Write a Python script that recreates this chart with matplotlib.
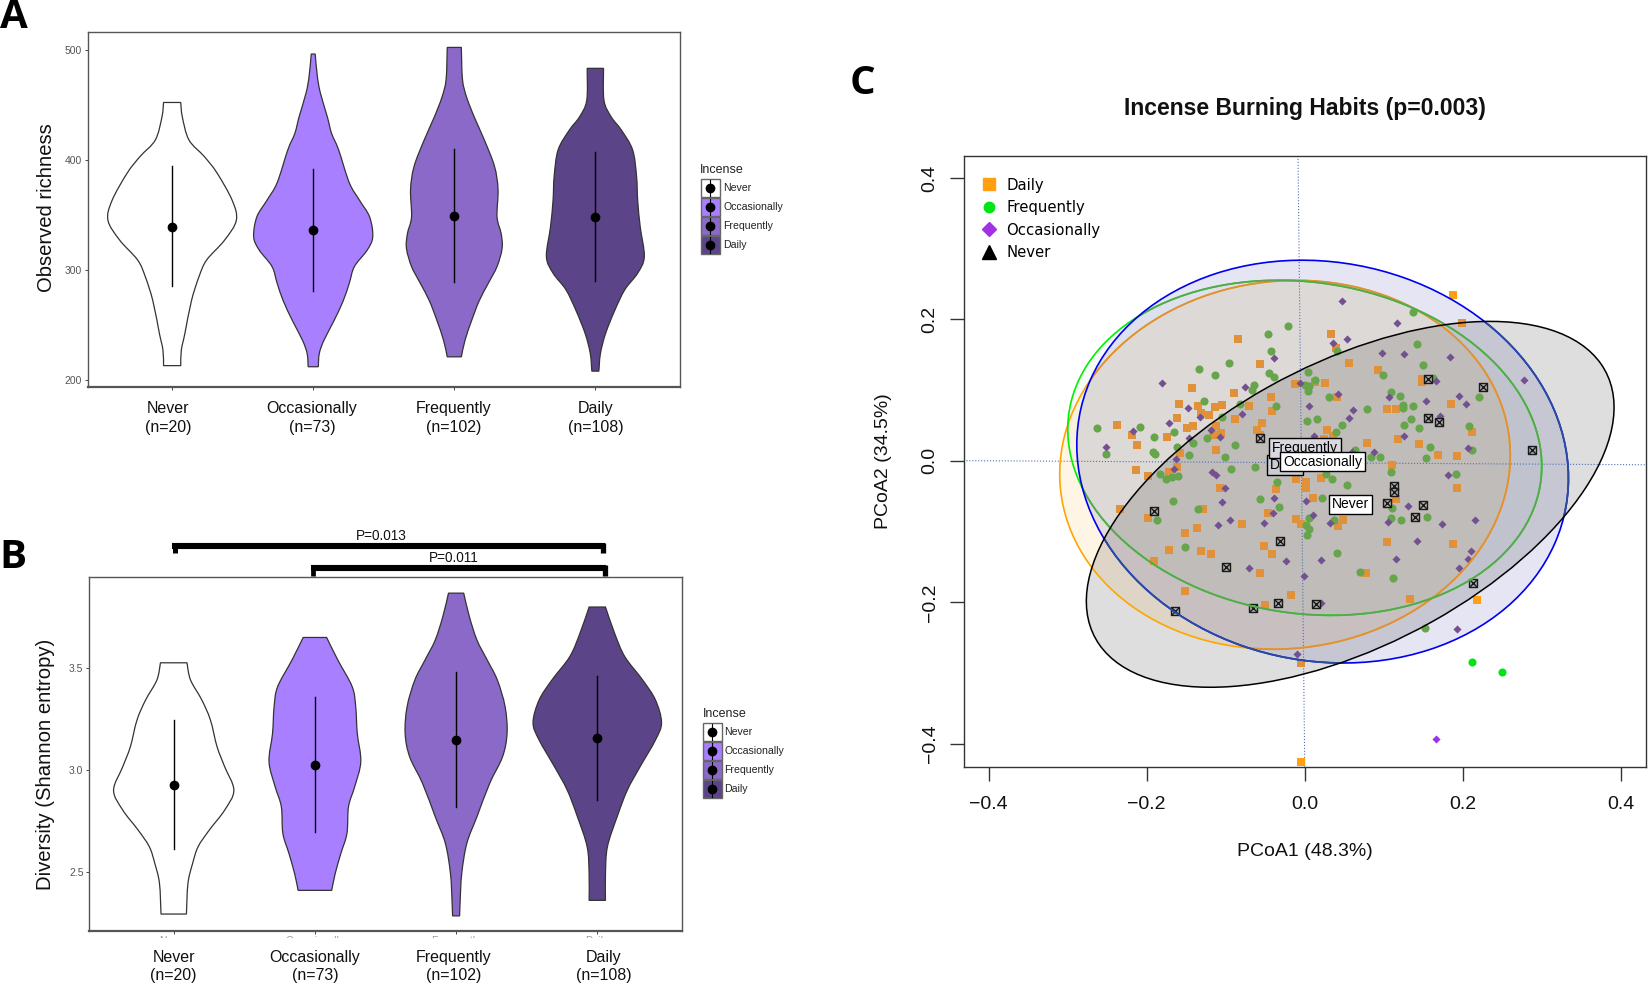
import numpy as np
import matplotlib
matplotlib.use('Agg')
import matplotlib.pyplot as plt
from matplotlib.lines import Line2D
from matplotlib.patches import Ellipse, PathPatch, Rectangle
from matplotlib.path import Path
from matplotlib.transforms import Bbox

plt.rcParams['font.family'] = ['Liberation Sans', 'DejaVu Sans']

W, H = 1650, 984

groups = ['Never', 'Occasionally', 'Frequently', 'Daily']
counts = ['(n=20)', '(n=73)', '(n=102)', '(n=108)']
violin_colors = ['#FFFFFF', '#A880FF', '#8A69C9', '#5C4488']

# panel A, violin outlines: value and half width at that value
a_never_y = [452, 439, 418, 403, 388, 363, 345, 327, 309, 294, 272, 242, 227, 213]
a_never_w = [.061, .072, .119, .227, .318, .426, .455, .372, .245, .191, .137, .09, .065, .061]
a_occ_y = [496, 476, 461, 439, 424, 409, 379, 363, 348, 330, 318, 303, 288, 272, 254, 236, 224, 212]
a_occ_w = [.014, .029, .05, .10, .13, .18, .256, .329, .40, .422, .383, .292, .256, .213, .148, .076, .043, .036]
a_freq_y = [502, 473, 457, 439, 418, 394, 373, 348, 333, 319.5, 303, 288, 272, 254, 236, 221]
a_freq_w = [.05, .058, .087, .141, .213, .285, .31, .303, .332, .339, .303, .242, .177, .123, .076, .05]
a_daily_y = [483, 454, 439, 427, 409, 385, 363, 339, 312, 297, 282, 263, 242, 224, 208]
a_daily_w = [.058, .061, .112, .184, .264, .292, .30, .318, .347, .30, .209, .137, .072, .036, .025]
a_mean = [339, 336, 349, 348]
a_low = [285, 281, 289, 290]
a_high = [394, 392, 410, 407]

# panel B, same layout
b_never_y = [3.524, 3.44, 3.342, 3.244, 3.113, 3.015, 2.90, 2.803, 2.706, 2.624, 2.542, 2.445, 2.294]
b_never_w = [.094, .119, .199, .26, .307, .361, .426, .361, .253, .173, .134, .101, .09]
b_occ_y = [3.648, 3.538, 3.407, 3.309, 3.179, 3.04, 2.918, 2.82, 2.689, 2.591, 2.493, 2.41]
b_occ_w = [.083, .162, .264, .289, .30, .325, .282, .238, .227, .184, .144, .119]
b_freq_y = [3.865, 3.75, 3.635, 3.538, 3.44, 3.309, 3.179, 3.064, 2.934, 2.771, 2.64, 2.493, 2.363, 2.285]
b_freq_w = [.054, .094, .148, .22, .292, .347, .361, .329, .238, .148, .076, .04, .029, .025]
b_daily_y = [3.797, 3.668, 3.554, 3.44, 3.342, 3.231, 3.146, 3.015, 2.901, 2.771, 2.624, 2.493, 2.361]
b_daily_w = [.058, .123, .195, .321, .412, .455, .412, .303, .213, .141, .072, .058, .058]
b_mean = [2.926, 3.025, 3.148, 3.154]
b_low = [2.611, 2.694, 2.82, 2.851]
b_high = [3.244, 3.356, 3.477, 3.461]

# panel C, points
daily_pts = [
    (.199, .195), (.033, .179), (-.085, .173), (.040, .159), (.056, .139), (-.056, .137), (.093, .129),
    (.148, .116), (.148, .111), (-.143, .103), (-.012, .109), (.013, .112), (.025, .110), (-.089, .096),
    (-.043, .091), (.041, .090), (-.159, .080), (-.135, .077), (-.131, .068), (-.121, .065), (-.113, .076),
    (-.105, .079), (-.071, .077), (-.041, .071), (.104, .074), (.115, .074), (.185, .081), (-.161, .060),
    (-.088, .059), (-.238, .051), (-.149, .047), (-.141, .049), (-.112, .049), (-.054, .053), (-.060, .044),
    (-.056, .037), (-.219, .037), (-.174, .034), (-.116, .036), (-.106, .039), (.028, .043), (.036, .035),
    (.024, .031), (.212, .041), (-.212, .023), (.118, .031), (.144, .024), (.079, .025), (-.158, .011),
    (-.112, .015), (.169, .008), (.192, .007), (.111, -.006), (-.161, -.009), (-.214, -.013), (-.198, -.022),
    (-.172, -.016), (-.011, -.025), (.001, -.030), (.002, -.039), (.021, -.024), (-.037, -.040), (-.107, -.038),
    (.193, -.039), (.010, -.052), (.116, -.054), (-.234, -.068), (-.129, -.068), (-.198, -.081), (-.046, -.073),
    (-.011, -.082), (-.005, -.089), (-.079, -.089), (.048, -.083), (.042, -.092), (-.136, -.095), (-.151, -.102),
    (.104, -.115), (.188, -.117), (-.051, -.121), (-.172, -.126), (-.131, -.127), (-.119, -.132), (-.041, -.132),
    (-.191, -.142), (.077, -.158), (-.056, -.159), (-.151, -.184), (-.018, -.190), (-.050, -.203), (.015, -.203),
    (.133, -.195), (-.005, -.285),
]
daily_out = [(.187, .235), (.218, -.196), (-.005, -.425)]
freq_pts = [
    (.137, .211), (-.021, .191), (-.047, .179), (-.043, .155), (.041, .155), (.142, .165), (-.096, .138),
    (-.134, .130), (-.113, .121), (.149, .136), (-.045, .124), (-.039, .118), (.004, .126), (.099, .121),
    (.162, .117), (-.064, .107), (-.067, .100), (0, .107), (.006, .106), (.013, .115), (.004, .099), (.031, .090),
    (.109, .097), (.121, .092), (-.127, .084), (-.082, .080), (-.037, .077), (.079, .073), (.124, .079),
    (.124, .075), (.137, .078), (.221, .090), (-.105, .062), (.003, .057), (.016, .059), (.135, .059), (.125, .051),
    (.145, .047), (.208, .049), (.047, .051), (-.263, .046), (-.208, .048), (-.165, .041), (-.191, .034),
    (-.124, .033), (-.141, .025), (-.162, .020), (-.088, .022), (.039, .041), (-.251, .010), (-.192, .012),
    (-.189, .010), (-.147, .009), (-.101, .005), (.064, .016), (.084, .005), (.095, .005), (.159, .019), (.212, .016),
    (.153, .004), (-.093, -.012), (-.063, -.008), (.109, -.016), (.191, -.018), (-.183, -.018), (-.175, -.026),
    (-.168, -.023), (-.160, -.022), (.027, -.019), (.035, -.025), (-.035, -.030), (.054, -.034), (-.167, -.057),
    (-.057, -.054), (.022, -.053), (-.032, -.065), (-.135, -.068), (.111, -.067), (-.187, -.083), (.006, -.081),
    (.037, -.083), (.109, -.081), (.122, -.084), (.155, -.080), (.002, -.091), (.006, -.096), (.003, -.105),
    (-.151, -.122), (.041, -.130), (.070, -.157), (.112, -.166), (.152, -.236),
]
freq_out = [(.212, -.284), (.250, -.298)]
occ_pts = [
    (.047, .226), (.117, .195), (.036, .166), (.053, .172), (-.039, .146), (.098, .153), (.126, .151), (.184, .147),
    (-.181, .110), (-.076, .104), (-.006, .110), (.166, .113), (.277, .115), (.042, .094), (.106, .090), (.195, .092),
    (.153, .084), (.204, .080), (-.148, .075), (.005, .078), (.061, .072), (-.079, .066), (-.133, .062), (.056, .060),
    (-.172, .054), (.171, .064), (-.217, .042), (-.118, .043), (-.107, .034), (-.146, .032), (.012, .035), (.125, .035),
    (-.251, .019), (.206, .018), (.060, .012), (.087, .012), (-.163, .003), (-.165, -.012), (-.117, -.016),
    (-.112, -.020), (.181, -.020), (-.101, -.039), (-.039, -.053), (.002, -.057), (-.105, -.058), (.130, -.064),
    (-.040, -.074), (.011, -.077), (-.094, -.084), (-.110, -.090), (-.051, -.088), (.032, -.088), (.105, -.087),
    (.174, -.089), (.215, -.084), (.142, -.113), (.210, -.127), (.206, -.138), (-.024, -.142), (.020, -.140),
    (.116, -.138), (-.070, -.151), (.195, -.152), (-.001, -.162), (.021, -.201), (.192, -.238), (-.010, -.273),
]
occ_out = [(.166, -.393)]
never_pts = [
    (-.056, .032), (.156, .116), (.225, .104), (.156, .060), (.170, .055), (.287, .015), (.113, -.035), (.113, -.044),
    (.104, -.060), (.150, -.062), (.139, -.080), (-.191, -.071), (-.031, -.113), (-.100, -.150), (.213, -.173),
    (-.164, -.212), (-.066, -.208), (-.034, -.201), (.014, -.202),
]

# ellipse: centre x, centre y, half extent x, half extent y, tilt
ell_daily = [-.025, -.0055, .285, .2607, .05]
ell_freq = [0.0, .0185, .2998, .2368, -.11]
ell_occ = [.0226, -.001, .311, .2847, -.083]
ell_never = [.0575, -.0614, .3338, .2586, .53]


def add_axes_px(fig, left, top, right, bottom):
    return fig.add_axes([left / W, 1 - bottom / H, (right - left) / W, (bottom - top) / H])


def fig_text(fig, x, y, s, **kw):
    return fig.text(x / W, 1 - y / H, s, **kw)


def px_line(fig, xs, ys, **kw):
    fig.add_artist(Line2D([x / W for x in xs], [1 - y / H for y in ys], transform=fig.transFigure, **kw))


def smooth(points):
    # bezier control points through the knots
    p = np.asarray(points, dtype=float)
    q = np.vstack([p[0], p, p[-1]])
    verts = []
    for i in range(1, len(q) - 2):
        verts.append(q[i] + (q[i + 1] - q[i - 1]) / 6)
        verts.append(q[i + 1] - (q[i + 2] - q[i]) / 6)
        verts.append(q[i + 1])
    return verts


def draw_violin(ax, x, ys, ws, color):
    right = [(x + w, y) for y, w in zip(ys, ws)]
    left = [(x - w, y) for y, w in zip(ys[::-1], ws[::-1])]
    verts = [right[0]] + smooth(right) + [left[0]] + smooth(left) + [right[0]]
    n = len(smooth(right))
    codes = [Path.MOVETO] + [Path.CURVE4] * n + [Path.LINETO] + [Path.CURVE4] * n + [Path.CLOSEPOLY]
    ax.add_patch(PathPatch(Path(verts, codes), fc=color, ec='#333333', lw=0.9, zorder=2))


def violin_panel(ax, shapes, means, lows, highs):
    for i, (ys, ws) in enumerate(shapes):
        draw_violin(ax, i + 1, ys, ws, violin_colors[i])
        ax.plot([i + 1, i + 1], [lows[i], highs[i]], color='black', lw=1.0, zorder=3)
        ax.plot(i + 1, means[i], 'o', color='black', ms=6, zorder=4)
    ax.set_xlim(0.4, 4.6)
    ax.set_xticks([1, 2, 3, 4])
    ax.set_xticklabels([])
    for name, sp in ax.spines.items():
        sp.set_color('#555555')
        sp.set_linewidth(1.0)
    ax.spines['bottom'].set_linewidth(1.6)
    ax.tick_params(axis='both', length=2.5, width=0.7, color='#444444', labelcolor='#555555', labelsize=7.5, pad=1.5)


def violin_legend(fig, key_left, key_top, text_x, title_x, title_y):
    fig_text(fig, title_x, title_y, 'Incense', fontsize=9, va='center', color='#222222')
    for i, name in enumerate(groups):
        y = key_top + 19 * i
        fig.add_artist(Rectangle((key_left / W, 1 - (y + 18) / H), 19 / W, 18 / H, transform=fig.transFigure,
                                 fc=violin_colors[i], ec='#666666', lw=1.0))
        px_line(fig, [key_left + 9.5] * 2, [y + 1, y + 17], color='black', lw=0.8)
        px_line(fig, [key_left + 9.5], [y + 9], marker='o', ms=6, color='black', ls='none')
        fig_text(fig, text_x, y + 9, name, fontsize=7.6, va='center', color='#222222')


def draw_ellipse(ax, params, **kw):
    cx, cy, a, b, r = params
    vals, vecs = np.linalg.eigh([[a * a, r * a * b], [r * a * b, b * b]])
    angle = np.degrees(np.arctan2(vecs[1, 1], vecs[0, 1]))
    e = Ellipse((cx, cy), 2 * np.sqrt(vals[1]), 2 * np.sqrt(vals[0]), angle=angle, **kw)
    ax.add_patch(e)
    return e


fig = plt.figure(figsize=(W / 100, H / 100), dpi=100)

# ---- panel A
ax_a = add_axes_px(fig, 87.5, 32, 680, 387)
violin_panel(ax_a, [(a_never_y, a_never_w), (a_occ_y, a_occ_w), (a_freq_y, a_freq_w), (a_daily_y, a_daily_w)],
             a_mean, a_low, a_high)
ax_a.set_ylim(193.6, 516)
ax_a.set_yticks([200, 300, 400, 500])
fig_text(fig, 47, 208, 'Observed richness', rotation=90, ha='center', va='center', fontsize=14.6, color='#111111')
for x, g, c in zip([168, 312, 454, 596], groups, counts):
    fig_text(fig, x, 418, g + '\n' + c, ha='center', va='center', fontsize=11.5, linespacing=1.27, color='#111111')
violin_legend(fig, 700.5, 179, 723, 700, 170)

# ---- panel B
ax_b = add_axes_px(fig, 89, 577, 682, 931)
violin_panel(ax_b, [(b_never_y, b_never_w), (b_occ_y, b_occ_w), (b_freq_y, b_freq_w), (b_daily_y, b_daily_w)],
             b_mean, b_low, b_high)
ax_b.set_ylim(2.211, 3.944)
ax_b.set_yticks([2.5, 3.0, 3.5])
fig_text(fig, 46, 764, 'Diversity (Shannon entropy)', rotation=90, ha='center', va='center', fontsize=14.6, color='#111111')
for x, g, c in zip([173.5, 315, 454, 604], groups, counts):
    fig_text(fig, x, 966.5, g + '\n' + c, ha='center', va='center', fontsize=11.5, linespacing=1.27, color='#111111')
violin_legend(fig, 702.5, 723, 724.5, 702.5, 714)

# old tick labels cut off under panel B, only their tops show
for x, g in zip([173.5, 315, 456, 597], groups):
    t = fig_text(fig, x, 935.5, g, ha='center', va='top', fontsize=7.5, color='#999999')
    t.set_clip_on(True)
    t.set_clip_box(Bbox([[0, H - 937.5], [W, H - 935]]))

# significance brackets above panel B
px_line(fig, [172, 605], [546, 546], color='black', lw=4.4, solid_capstyle='butt')
px_line(fig, [174.5, 174.5], [543, 553], color='black', lw=3.6, solid_capstyle='butt')
px_line(fig, [603, 603], [543, 553], color='black', lw=3.8, solid_capstyle='butt')
px_line(fig, [311, 606], [568, 568], color='black', lw=4.4, solid_capstyle='butt')
px_line(fig, [313, 313], [565, 576], color='black', lw=3.4, solid_capstyle='butt')
px_line(fig, [604.5, 604.5], [565, 576], color='black', lw=3.8, solid_capstyle='butt')
fig_text(fig, 381, 536, 'P=0.013', ha='center', va='center', fontsize=9.8, color='#111111')
fig_text(fig, 453.5, 557.5, 'P=0.011', ha='center', va='center', fontsize=9.8, color='#111111')

# ---- panel C
ax_c = add_axes_px(fig, 963.5, 156, 1646, 767)
ax_c.set_xlim(-.4317, .4317)
ax_c.set_ylim(-.4327, .431)

draw_ellipse(ax_c, ell_daily, fc=(1, .647, 0, .10), ec='none', zorder=1)
draw_ellipse(ax_c, ell_freq, fc=(0, .6, 0, .03), ec='none', zorder=1)
occ_fill = draw_ellipse(ax_c, ell_occ, fc=(0, 0, .6, .10), ec='none', zorder=1)
never_fill = draw_ellipse(ax_c, ell_never, fc=(0, 0, 0, .13), ec='none', zorder=1)

ax_c.plot([-.0085, 0], [.431, -.4327], color='#5070B4', lw=0.8, ls=':', zorder=1.5)
ax_c.plot([-.4317, .4317], [.0004, -.0055], color='#5070B4', lw=0.8, ls=':', zorder=1.5)

ax_c.scatter(*zip(*daily_pts), marker='s', s=31, color='#E0913A', lw=0, zorder=2)
ax_c.scatter(*zip(*freq_pts), marker='o', s=34, color='#66A54B', lw=0, zorder=2)
ax_c.scatter(*zip(*occ_pts), marker='D', s=17, color='#73508F', lw=0, zorder=2)
ax_c.scatter(*zip(*daily_out), marker='s', s=31, color='#FFA010', lw=0, zorder=2)
ax_c.scatter(*zip(*freq_out), marker='o', s=34, color='#00E614', lw=0, zorder=2)
ax_c.scatter(*zip(*occ_out), marker='D', s=17, color='#A032E6', lw=0, zorder=2)
ax_c.scatter(*zip(*never_pts), marker='s', s=30, facecolor='#B0B0B0', edgecolor='#1A1A1A', lw=1.0, zorder=2.5)
ax_c.scatter(*zip(*never_pts), marker='x', s=24, color='#1A1A1A', lw=1.0, zorder=2.6)

# outlines: bright outside the blue ellipse, muted inside it
draw_ellipse(ax_c, ell_daily, fc='none', ec='#FFA500', lw=1.2, zorder=3)
e = draw_ellipse(ax_c, ell_daily, fc='none', ec='#DE9238', lw=1.3, zorder=3.1)
e.set_clip_path(occ_fill)
draw_ellipse(ax_c, ell_freq, fc='none', ec='#00F000', lw=1.2, zorder=3.2)
e = draw_ellipse(ax_c, ell_freq, fc='none', ec='#5CA552', lw=1.3, zorder=3.3)
e.set_clip_path(occ_fill)
draw_ellipse(ax_c, ell_occ, fc='none', ec='#0000F0', lw=1.2, zorder=3.4)
e = draw_ellipse(ax_c, ell_occ, fc='none', ec='#2A4C9C', lw=1.3, zorder=3.5)
e.set_clip_path(never_fill)
draw_ellipse(ax_c, ell_never, fc='none', ec='black', lw=1.1, zorder=3.6)

# group labels sit on the ellipse centres
label_box = dict(boxstyle='square,pad=0.2', ec='black', lw=1.0)
ax_c.text(ell_daily[0], ell_daily[1], 'Daily', ha='center', va='center', fontsize=10, zorder=5,
          bbox=dict(label_box, fc='#C9CDD2'))
ax_c.text(ell_freq[0], ell_freq[1], 'Frequently', ha='center', va='center', fontsize=10, zorder=5,
          bbox=dict(label_box, fc='#D8D8DE'))
ax_c.text(ell_occ[0], ell_occ[1], 'Occasionally', ha='center', va='center', fontsize=10, zorder=6,
          bbox=dict(label_box, fc='white'))
ax_c.text(ell_never[0], ell_never[1], 'Never', ha='center', va='center', fontsize=10, zorder=6,
          bbox=dict(label_box, fc='white'))

ax_c.set_xticks([-.4, -.2, 0, .2, .4])
ax_c.set_yticks([-.4, -.2, 0, .2, .4])
ax_c.set_xticklabels(['\u22120.4', '\u22120.2', '0.0', '0.2', '0.4'])
ax_c.set_yticklabels(['\u22120.4', '\u22120.2', '0.0', '0.2', '0.4'], rotation=90, va='center')
ax_c.tick_params(axis='both', length=10, width=1.0, labelsize=14, color='#333333', labelcolor='#111111')
ax_c.tick_params(axis='x', pad=11)
ax_c.tick_params(axis='y', pad=8)
for sp in ax_c.spines.values():
    sp.set_color('#333333')
    sp.set_linewidth(1.0)

handles = [
    Line2D([], [], marker='s', ls='none', ms=8, color='#FFA010'),
    Line2D([], [], marker='o', ls='none', ms=7.5, color='#00E614'),
    Line2D([], [], marker='D', ls='none', ms=7, color='#A032E6'),
    Line2D([], [], marker='^', ls='none', ms=9.5, color='black'),
]
ax_c.legend(handles, ['Daily', 'Frequently', 'Occasionally', 'Never'], loc='upper left', frameon=False,
            bbox_to_anchor=(0.003, 0.984), prop={'family': 'DejaVu Sans', 'size': 10.7}, labelspacing=0.50,
            handletextpad=0.45, handlelength=1.5, borderpad=0.4, borderaxespad=0.4)

fig_text(fig, 1305, 108, 'Incense Burning Habits (p=0.003)', ha='center', va='center', fontsize=16.5,
         fontweight='bold', color='#111111')
fig_text(fig, 1305, 852, 'PCoA1 (48.3%)', ha='center', va='center', fontsize=14, color='#111111')
fig_text(fig, 883, 461, 'PCoA2 (34.5%)', rotation=90, ha='center', va='center', fontsize=14, color='#111111')

# panel letters
for s, x, y in [('A', 14, 17), ('B', 13, 558), ('C', 862, 84)]:
    fig_text(fig, x, y, s, ha='center', va='center', fontsize=29, fontweight='bold', family='Open Sans', color='black')

fig.savefig('out.png', dpi=100)
